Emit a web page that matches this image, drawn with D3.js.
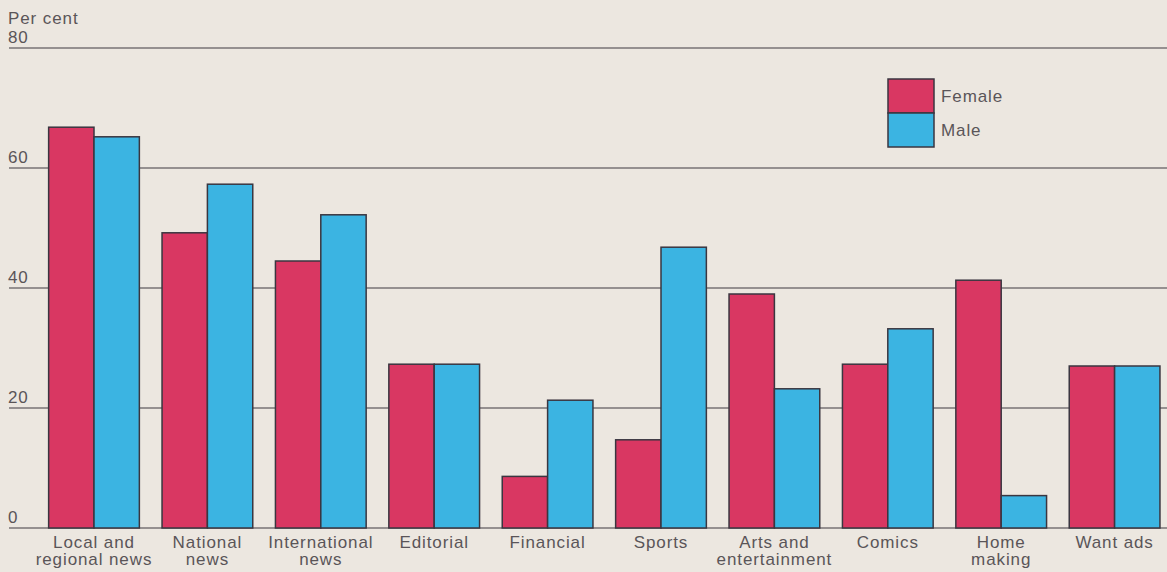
<!DOCTYPE html>
<html><head><meta charset="utf-8">
<script src="https://cdn.jsdelivr.net/npm/d3@7"></script>
<style>
html,body{margin:0;padding:0;background:#ece7e0;}
svg{display:block;}
text{font-family:"Liberation Sans",Arial,sans-serif;fill:#5a5558;letter-spacing:0.9px;}
</style></head>
<body>
<svg id="chart" width="1167" height="572"></svg>
<script>
const categories = [["Local and","regional news"],["National","news"],["International","news"],["Editorial"],["Financial"],["Sports"],["Arts and","entertainment"],["Comics"],["Home","making"],["Want ads"]];
const seriesNames = ["Female","Male"];
const female = [66.8, 49.2, 44.5, 27.3, 8.6, 14.7, 39.0, 27.3, 41.3, 27.0];
const male   = [65.2, 57.3, 52.2, 27.3, 21.3, 46.8, 23.2, 33.2, 5.4, 27.0];
const yTicks = [0, 20, 40, 60, 80];
const colors = ["#d93762", "#3bb4e2"];

const svg = d3.select("#chart");
const W = 1167, H = 572;
const y = d3.scaleLinear().domain([0, 80]).range([528, 48]);
const keys = categories.map(c => c.join(" "));
const x0 = d3.scaleBand().domain(keys).range([37.3, 1171.3]).paddingInner(0.2).paddingOuter(0.1);
const x1 = d3.scaleBand().domain(seriesNames).range([0, x0.bandwidth()]);

// gridlines
const grid = svg.append("g");
grid.selectAll("line").data(yTicks).join("line")
  .attr("x1", 9).attr("x2", W)
  .attr("y1", d => y(d)).attr("y2", d => y(d))
  .attr("stroke", "#3e3b40").attr("stroke-width", 1.1);
grid.selectAll("text").data(yTicks).join("text")
  .attr("x", 8).attr("y", d => y(d) - 5)
  .attr("font-size", 17).text(d => d);
svg.append("text").attr("x", 8).attr("y", 24).attr("font-size", 17).text("Per cent");

// bars
const data = keys.map((k, i) => ({k, vals: [female[i], male[i]]}));
const g = svg.append("g");
data.forEach(d => {
  d.vals.forEach((v, j) => {
    g.append("rect")
      .attr("x", x0(d.k) + x1(seriesNames[j]))
      .attr("y", y(v))
      .attr("width", x1.bandwidth())
      .attr("height", y(0) - y(v))
      .attr("fill", colors[j])
      .attr("stroke", "#3a3640").attr("stroke-width", 1.5);
  });
});

// category labels
categories.forEach((c, i) => {
  const cx = x0(keys[i]) + x0.bandwidth() / 2;
  c.forEach((line, li) => {
    svg.append("text").attr("x", cx).attr("y", 548 + li * 17)
      .attr("text-anchor", "middle").attr("font-size", 17).text(line);
  });
});

// legend
const leg = svg.append("g");
seriesNames.forEach((s, j) => {
  leg.append("rect").attr("x", 888).attr("y", 79 + j * 34).attr("width", 46).attr("height", 34)
    .attr("fill", colors[j]).attr("stroke", "#3a3640").attr("stroke-width", 1.5);
  leg.append("text").attr("x", 941).attr("y", 102 + j * 34).attr("font-size", 17).text(s);
});
</script>
</body></html>
